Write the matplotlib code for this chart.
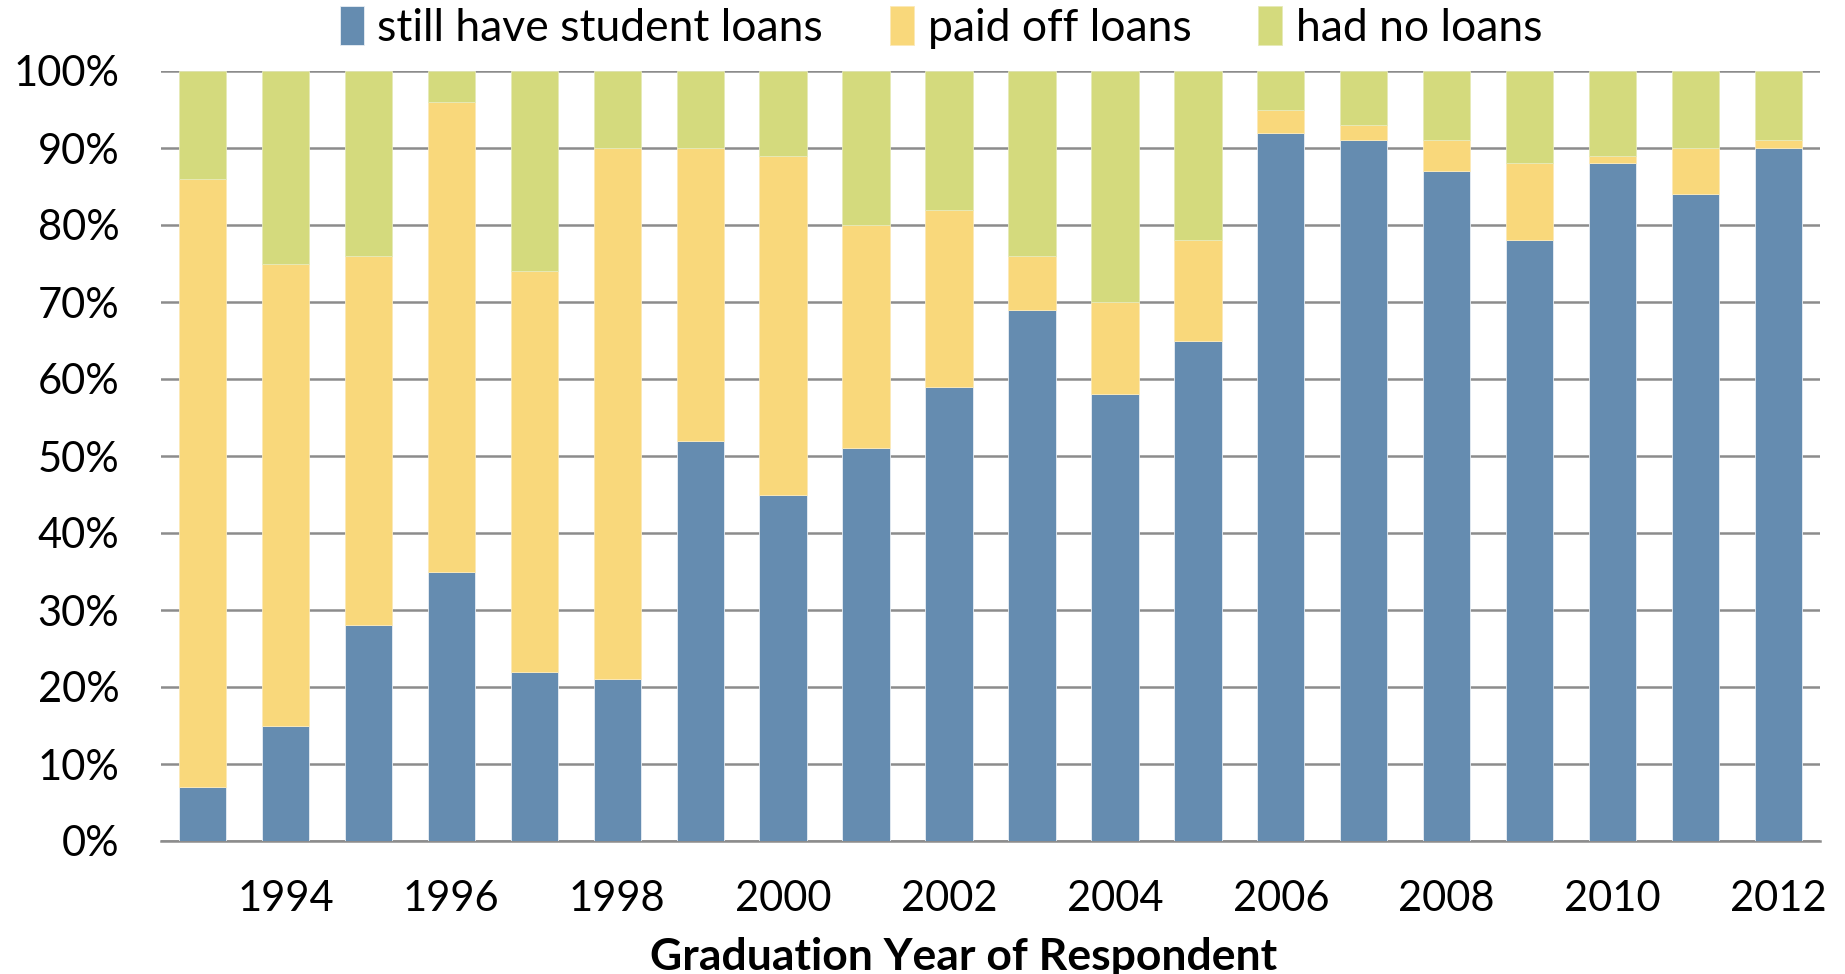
import numpy as np
import matplotlib
matplotlib.use("Agg")
import matplotlib.pyplot as plt

plt.rcParams['font.family'] = ['Lato', 'DejaVu Sans']

years = list(range(1993, 2013))
still_have = [7, 15, 28, 35, 22, 21, 52, 45, 51, 59, 69, 58, 65, 92, 91, 87, 78, 88, 84, 90]
paid_off = [79, 60, 48, 61, 52, 69, 38, 44, 29, 23, 7, 12, 13, 3, 2, 4, 10, 1, 6, 1]
no_loans = [14, 25, 24, 4, 26, 10, 10, 11, 20, 18, 24, 30, 22, 5, 7, 9, 12, 11, 10, 9]
labels = ['still have student loans', 'paid off loans', 'had no loans']
colors = ['#658cb0', '#f9d87b', '#d4da7d']

fig = plt.figure(figsize=(18.45, 9.74), dpi=100)
ax = fig.add_axes([161 / 1845, 1 - 841 / 974, (1820 - 161) / 1845, (841 - 71) / 974])

x = np.array(years)
s = np.array(still_have)
p = np.array(paid_off)
n = np.array(no_loans)
w = 0.57
ax.bar(x, s, w, color=colors[0], edgecolor='#e8eef4', linewidth=0.6, label=labels[0], zorder=3)
ax.bar(x, p, w, bottom=s, color=colors[1], edgecolor='#fbe9b8', linewidth=0.6, label=labels[1], zorder=3)
ax.bar(x, n, w, bottom=s + p, color=colors[2], edgecolor='#e6eab8', linewidth=0.6, label=labels[2], zorder=3)

ax.set_xlim(1992.5, 2012.5)
ax.set_ylim(0, 100)
ax.set_yticks(range(0, 101, 10))
ax.set_yticklabels([f'{v}%' for v in range(0, 101, 10)])
ax.set_xticks(years[1::2])
ax.grid(axis='y', color='#8c8c8c', linewidth=1.8, zorder=0)
for sp in ['left', 'right', 'top']:
    ax.spines[sp].set_visible(False)
ax.spines['bottom'].set_color('#8c8c8c')
ax.spines['bottom'].set_linewidth(1.8)
ax.tick_params(axis='both', length=0, labelsize=30)
ax.tick_params(axis='x', pad=28)
ax.tick_params(axis='y', pad=30)
ax.set_xlabel('Graduation Year of Respondent', fontsize=32, fontweight='bold', labelpad=10)
ax.xaxis.set_label_coords(0.484, -0.125)

fig.legend(*ax.get_legend_handles_labels(), loc='center', bbox_to_anchor=(0.51, 0.972),
           ncol=3, frameon=False, fontsize=32, handlelength=0.55, handleheight=1.0,
           handletextpad=0.3, columnspacing=1.5, borderaxespad=0, borderpad=0)

fig.savefig('out.png', dpi=100)
